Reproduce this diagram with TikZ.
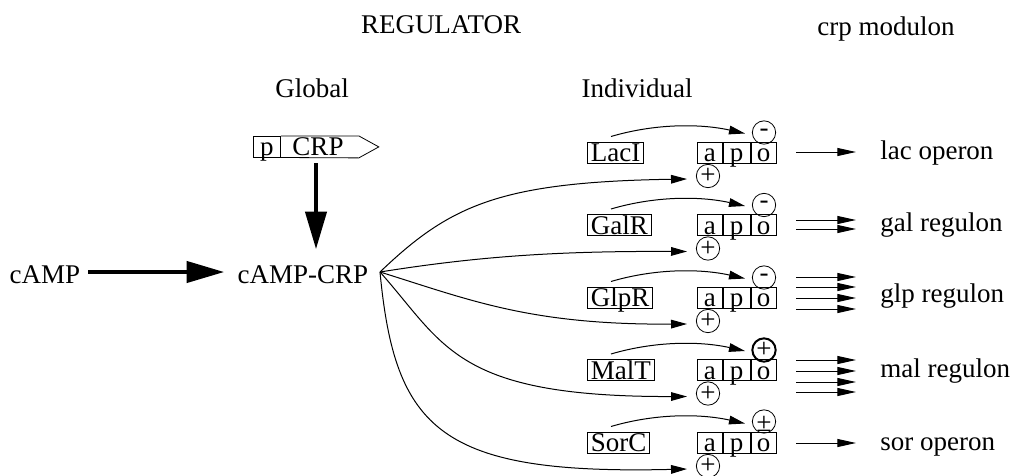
\documentclass[tikz,border=0pt]{standalone}
\usepackage{fontspec}
\setmainfont{Liberation Serif}
\usetikzlibrary{arrows.meta}
\begin{document}
\begin{tikzpicture}[x=0.75pt,y=-0.75pt,
  font=\fontsize{20.25}{24}\selectfont,
  every node/.style={inner sep=0pt},
  lbl/.style={anchor=base},
  gbox/.style={draw, line width=0.6pt, text height=14.4pt, text depth=1.2pt, inner xsep=2.6pt, inner ysep=0pt, anchor=base west},
  cell/.style={draw, line width=0.6pt, text height=14.4pt, text depth=1.2pt, inner sep=0pt, anchor=base west},
  sign/.style={circle, draw, line width=0.6pt, minimum size=17.5pt},
  thinarr/.style={line width=0.75pt, -{Triangle[length=12pt,width=6.5pt]}},
  bigarr/.style={line width=2.3pt, -{Triangle[length=28pt,width=16pt]}},
  outarr/.style={line width=0.75pt, -{Triangle[length=14pt,width=6pt]}}
]
\useasboundingbox (0,0) rectangle (1012,475);

% headings
\node[lbl] (hreg) at (441,33) {REGULATOR};
\node[lbl] (hcrp) at (886,35) {crp modulon};
\node[lbl] (hglob) at (312,97) {Global};
\node[lbl] (hind) at (637,97) {Individual};

% crp gene
\node[cell, minimum width=20.25pt] (pbox) at (253,155.5) {p};
\draw[line width=0.6pt] (pbox.north east) -- ++(78,0) -- ++(20,11) -- ++(-20,11) -- (pbox.south east);
\node[lbl] (crp) at (318,155.5) {CRP};
\coordinate (crpbot) at (316,163);

% cAMP
\node[lbl] (camp) at (45,283) {cAMP};
\node[lbl] (campcrp) at (303,283) {cAMP-CRP};
\coordinate (campA) at (88,272);
\coordinate (campB) at (224,272);
\coordinate (crpdown) at (316,249);
\draw[bigarr] (campA) -- (campB);
\draw[bigarr] (crpbot) -- (crpdown);
\coordinate (fan) at (380,272);

% rows
\foreach \g/\b [count=\i] in {LacI/163, GalR/235.5, GlpR/308, MalT/380.5, SorC/453} {
  \node[gbox] (g\i) at (587,\b-1.5) {\g};
  \node[cell, minimum width=18.75pt] (a\i) at (697,\b-1.5) {a};
  \node[cell, minimum width=20.25pt] (p\i) at (a\i.base east) {p};
  \node[cell, minimum width=18.75pt] (o\i) at (p\i.base east) {o};
  \node[sign] (b\i) at (708,\b+13) {+};
  \coordinate (r\i) at (611,\b-26.5);
  \coordinate (t\i) at (745,\b-29.5);
  \draw[thinarr] (r\i) .. controls (655,\b-39.5) and (700,\b-39.5) .. (t\i);
  \coordinate (f\i) at ([shift={(-21,3)}]b\i.center);
}

% top signs
\node[sign] (s1) at (764,132.5) {-};
\node[sign] (s2) at (764,205) {-};
\node[sign] (s3) at (764,277.5) {-};
\node[sign, line width=1.5pt] (s4) at (764,350) {+};
\node[sign] (s5) at (764,421.5) {};
\node[lbl] (s5t) at (764,431) {±};

% fan from cAMP-CRP
\draw[thinarr] (fan) .. controls (450,205) and (500,182) .. (f1);
\draw[thinarr] (fan) .. controls (480,256) and (560,251) .. (f2);
\draw[thinarr] (fan) .. controls (470,300) and (530,325) .. (f3);
\draw[thinarr] (fan) .. controls (445,345) and (455,397) .. (f4);
\draw[thinarr] (fan) .. controls (395,430) and (440,475) .. (f5);

% outputs
\foreach \y in {152, 220, 229, 277, 287, 298, 309, 360, 371, 382, 392, 443} {
  \draw[outarr] (796,\y) -- (856,\y);
}
\node[anchor=base west] (lac) at (880,159) {lac operon};
\node[anchor=base west] (gal) at (880,231) {gal regulon};
\node[anchor=base west] (glp) at (880,302) {glp regulon};
\node[anchor=base west] (mal) at (880,377) {mal regulon};
\node[anchor=base west] (sor) at (880,450) {sor operon};
\end{tikzpicture}
\end{document}
